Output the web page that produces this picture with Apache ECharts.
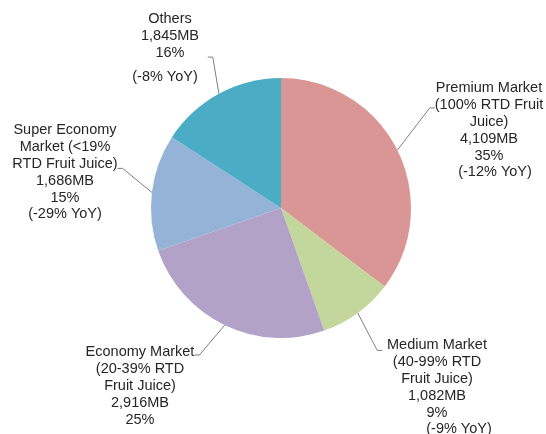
<!DOCTYPE html>
<html>
<head>
<meta charset="utf-8">
<script src="https://cdn.jsdelivr.net/npm/echarts@6/dist/echarts.min.js"></script>
<style>
  html, body { margin: 0; padding: 0; background: #fff; }
  #main { width: 546px; height: 434px; }
</style>
</head>
<body>
<div id="main"></div>
<script>
// 数据
var nameLines = [
    ['Premium Market', '(100% RTD Fruit', 'Juice)'],
    ['Medium Market', '(40-99% RTD', 'Fruit Juice)'],
    ['Economy Market', '(20-39% RTD', 'Fruit Juice)'],
    ['Super Economy', 'Market (<19%', 'RTD Fruit Juice)'],
    ['Others']
]
var values = [4109, 1082, 2916, 1686, 1845]
var sizeText = ['4,109MB', '1,082MB', '2,916MB', '1,686MB', '1,845MB']
var shareText = ['35%', '9%', '25%', '15%', '16%']
var yoyText = ['(-12% YoY)', '(-9% YoY)', '', '(-29% YoY)', '(-8% YoY)']
var colors = ['#D99694', '#C3D69B', '#B3A2C7', '#95B3D7', '#4BACC6']

// 标签位置 (中心x, 顶部y) 和 padding, 让引线接到对应行
var labelPos = [[489, 35], [437, 263], [140, 282], [65, 114], [170, 11]]
var labelPad = [[45, 0, 0, 0], [74, 0, 0, 0], [62, 0, 0, 0], [8, 0, 0, 0], [0, 0, 10, 0]]
var yoyStyle = ['y0', 'y1', 't', 't', 'y4']

var pieData = []
for (var i = 0; i < values.length; i++) {
    var parts = nameLines[i].map(function (s) { return '{t|' + s + '}' })
    parts.push('{t|' + sizeText[i] + '}')
    parts.push('{t|' + shareText[i] + '}')
    if (yoyText[i]) parts.push('{' + yoyStyle[i] + '|' + yoyText[i] + '}')
    pieData.push({
        name: nameLines[i].join(' '),
        value: values[i],
        itemStyle: { color: colors[i] },
        label: { formatter: parts.join('\n'), padding: labelPad[i] }
    })
}

var dom = echarts.init(document.getElementById('main'))
var txt = { align: 'center', fontSize: 14.5, lineHeight: 16.8, color: '#262626',
            fontFamily: 'Liberation Sans, Arial, sans-serif' }

var option = {
    backgroundColor: '#ffffff',
    animation: false,
    series: [{
        type: 'pie',
        center: [281, 208],
        radius: 130,
        startAngle: 90,
        clockwise: true,
        avoidLabelOverlap: false,
        data: pieData,
        label: {
            show: true,
            position: 'outside',
            backgroundColor: 'transparent',
            rich: {
                t: txt,
                y0: Object.assign({}, txt, { padding: [0, 0, 0, 12] }),
                y1: Object.assign({}, txt, { padding: [0, 0, 0, 44] }),
                y4: Object.assign({}, txt, { padding: [0, 10, 0, 0], lineHeight: 31.8 })
            }
        },
        labelLine: {
            show: true,
            length: 10,
            length2: 5,
            lineStyle: { color: '#7f7f7f', width: 1 }
        },
        labelLayout: function (params) {
            var p = labelPos[params.dataIndex]
            return { x: p[0], y: p[1], align: 'center', verticalAlign: 'top' }
        }
    }]
}
dom.setOption(option)
</script>
</body>
</html>
